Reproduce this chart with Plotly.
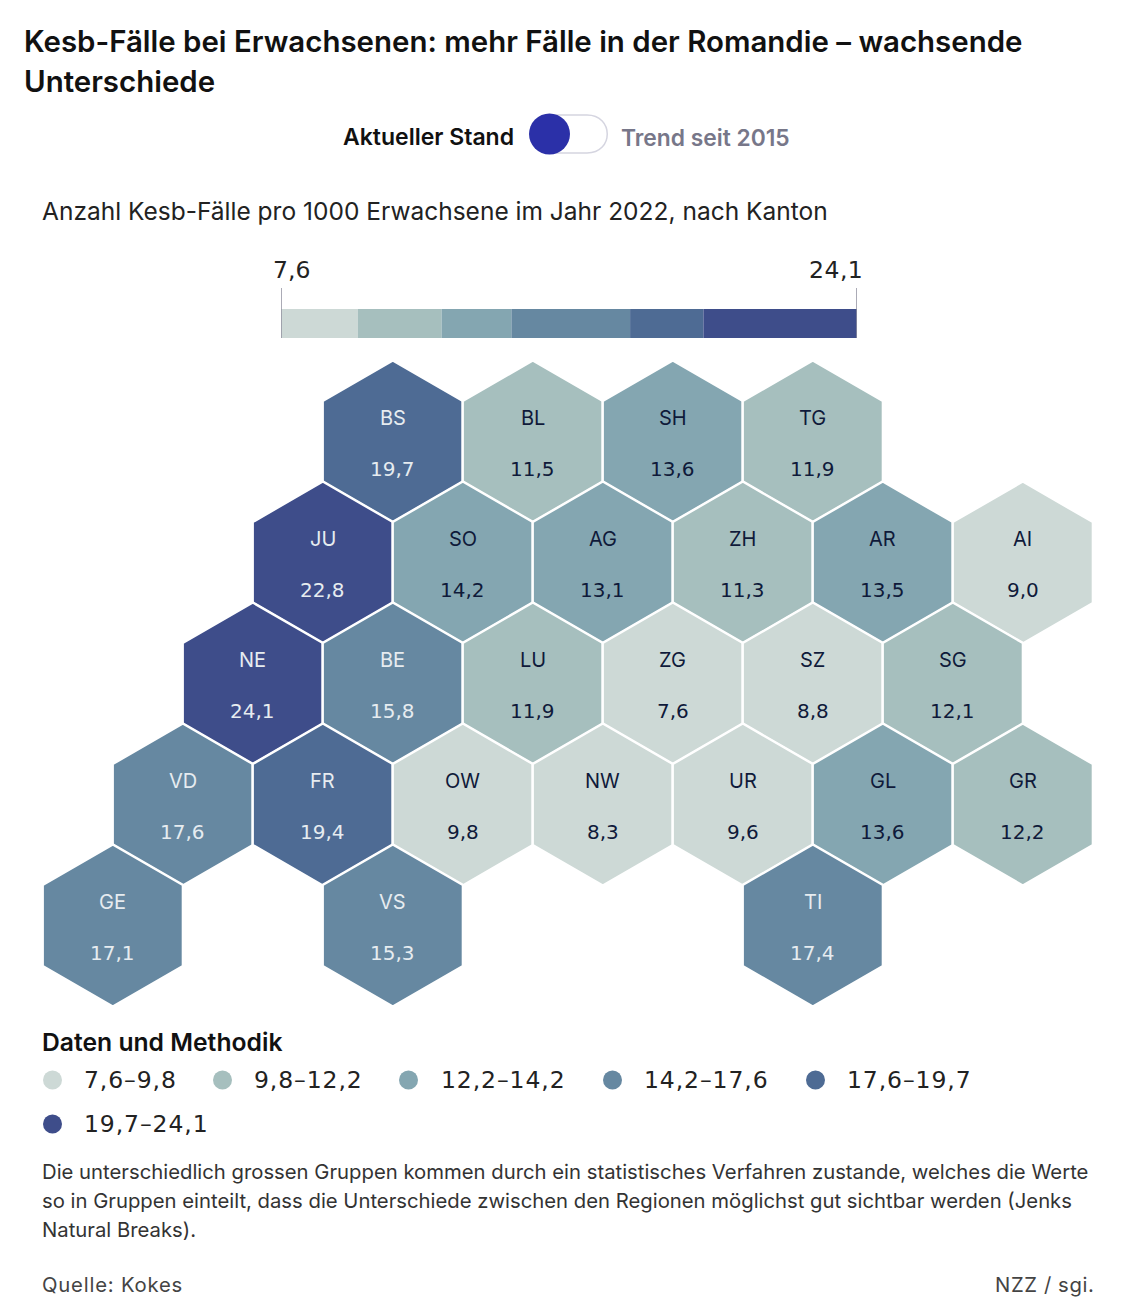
#!/usr/bin/env python3
import plotly.graph_objects as go

W, H = 1136, 1310
FONT = "Inter"
NUM_FONT = "DejaVu Sans"  # its digits come closest to the wide figures of the original

# Data
cantons = ["BS", "BL", "SH", "TG",
           "JU", "SO", "AG", "ZH", "AR", "AI",
           "NE", "BE", "LU", "ZG", "SZ", "SG",
           "VD", "FR", "OW", "NW", "UR", "GL", "GR",
           "GE", "VS", "TI"]
values = [19.7, 11.5, 13.6, 11.9,
          22.8, 14.2, 13.1, 11.3, 13.5, 9.0,
          24.1, 15.8, 11.9, 7.6, 8.8, 12.1,
          17.6, 19.4, 9.8, 8.3, 9.6, 13.6, 12.2,
          17.1, 15.3, 17.4]
# hex grid: column counted in half hexagons, row from the top
grid_col = [4, 6, 8, 10,
            3, 5, 7, 9, 11, 13,
            2, 4, 6, 8, 10, 12,
            1, 3, 5, 7, 9, 11, 13,
            0, 4, 10]
grid_row = [0, 0, 0, 0,
            1, 1, 1, 1, 1, 1,
            2, 2, 2, 2, 2, 2,
            3, 3, 3, 3, 3, 3, 3,
            4, 4, 4]
breaks = [7.6, 9.8, 12.2, 14.2, 17.6, 19.7, 24.1]
colors = ["#cdd9d6", "#a6bfbe", "#84a6b1", "#6688a1", "#4e6b94", "#3e4d8a"]
text_colors = ["#0f1a3a", "#0f1a3a", "#0f1a3a", "#e6ecf0", "#e6ecf0", "#e6ecf0"]
legend_labels = ["7,6–9,8", "9,8–12,2", "12,2–14,2", "14,2–17,6", "17,6–19,7", "19,7–24,1"]

HEX_X0, HEX_DX = 112.8, 70
HEX_Y0, HEX_DY = 441.5, 121


def de(v):
    return f"{v:.1f}".replace(".", ",")


def px(x):
    return x / W


def py(y):
    return 1 - y / H


def class_of(v):
    for i in range(len(colors)):
        if v <= breaks[i + 1]:
            return i
    return len(colors) - 1


def label(x, y, text, size, color="#111111", anchor="left", weight=400, family=FONT, spacing=0):
    if spacing:
        text = f'<span style="letter-spacing:{spacing}px">{text}</span>'
    fig.add_annotation(x=px(x), y=py(y), xref="paper", yref="paper", text=text,
                       showarrow=False, xanchor=anchor, yanchor="middle", align=anchor,
                       font=dict(family=family, size=size, color=color, weight=weight), borderpad=0, borderwidth=0)


def dot(x, y, r, color):
    fig.add_shape(type="circle", xref="paper", yref="paper", x0=px(x - r), x1=px(x + r),
                  y0=py(y + r), y1=py(y - r), fillcolor=color, line_width=0)


fig = go.Figure()

# hexagons
fig.add_trace(go.Scatter(
    x=grid_col, y=grid_row, mode="markers", hoverinfo="skip", showlegend=False,
    marker=dict(symbol="hexagon", size=162, color=[colors[class_of(v)] for v in values],
                line=dict(color="white", width=2.5)),
))
for c, v, gx, gy in zip(cantons, values, grid_col, grid_row):
    col = text_colors[class_of(v)]
    fig.add_annotation(x=gx, y=gy, text=c, showarrow=False, yshift=24, font=dict(family=FONT, size=20, color=col))
    fig.add_annotation(x=gx, y=gy, text=de(v), showarrow=False, yshift=-27, font=dict(family=NUM_FONT, size=20, color=col))

# colour scale
for i in range(len(colors)):
    fig.add_trace(go.Bar(
        x=[breaks[i + 1] - breaks[i]], base=[breaks[i]], y=[0], orientation="h", width=1,
        marker=dict(color=colors[i], line_width=0), xaxis="x2", yaxis="y2",
        hoverinfo="skip", showlegend=False,
    ))
for b in (breaks[0], breaks[-1]):
    fig.add_shape(type="line", xref="x2", yref="paper", x0=b, x1=b, y0=py(338), y1=py(288),
                  line=dict(color="#8f8f9e", width=1.5))

fig.update_layout(
    width=W, height=H, margin=dict(l=0, r=0, t=0, b=0),
    paper_bgcolor="white", plot_bgcolor="rgba(0,0,0,0)", barmode="overlay",
    xaxis=dict(range=[-HEX_X0 / HEX_DX, (W - HEX_X0) / HEX_DX], domain=[0, 1], visible=False, fixedrange=True),
    yaxis=dict(range=[(H - HEX_Y0) / HEX_DY, -HEX_Y0 / HEX_DY], domain=[0, 1], visible=False, fixedrange=True),
    xaxis2=dict(range=[breaks[0], breaks[-1]], domain=[px(281), px(857)], anchor="y2", visible=False),
    yaxis2=dict(range=[-0.5, 0.5], domain=[py(338), py(309)], anchor="x2", visible=False),
)

# header
label(24, 41.5, "Kesb-Fälle bei Erwachsenen: mehr Fälle in der Romandie – wachsende", 29.45, weight=600)
label(24, 81, "Unterschiede", 29.45, weight=600)

# toggle
label(514, 137.5, "Aktueller Stand", 23, anchor="right", weight=600)
label(621, 137.5, "Trend seit 2015", 22.8, color="#777789", weight=600)
fig.add_shape(type="path", xref="paper", yref="paper", line=dict(color="#d5d5e0", width=1.5), fillcolor="white",
              path=f"M {px(549)} {py(115)} L {px(587)} {py(115)} "
                   f"C {px(614)} {py(115)} {px(614)} {py(153)} {px(587)} {py(153)} "
                   f"L {px(549)} {py(153)} Z")
dot(549.5, 134, 20.5, "#2b30a8")

label(42, 211.5, "Anzahl Kesb-Fälle pro 1000 Erwachsene im Jahr 2022, nach Kanton", 24.5, color="#222222")
label(273, 270, de(breaks[0]), 23.5, color="#222222", family=NUM_FONT)
label(863, 270, de(breaks[-1]), 23.5, color="#222222", anchor="right", family=NUM_FONT, spacing=0.5)

# legend and notes
label(42, 1042, "Daten und Methodik", 24.7, weight=600)
legend_dots = [52.5, 222.5, 408.5, 612.5, 815.5, 52.5]
legend_text = [84, 254, 441, 644, 847, 84]
legend_y = [1080, 1080, 1080, 1080, 1080, 1124]
for i, t in enumerate(legend_labels):
    dot(legend_dots[i], legend_y[i], 9.5, colors[i])
    label(legend_text[i], legend_y[i], t, 23.5, color="#222222", family=NUM_FONT, spacing=0.9)

label(42, 1171.5, "Die unterschiedlich grossen Gruppen kommen durch ein statistisches Verfahren zustande, welches die Werte", 20.3, color="#333333")
label(42, 1200.5, "so in Gruppen einteilt, dass die Unterschiede zwischen den Regionen möglichst gut sichtbar werden (Jenks", 20.3, color="#333333")
label(42, 1229.5, "Natural Breaks).", 20.3, color="#333333")
label(42, 1284, "Quelle: Kokes", 20.3, color="#444444", spacing=0.8)
label(1094, 1284, "NZZ / sgi.", 20.3, color="#444444", anchor="right", spacing=0.6)

fig.write_html("out.html", config=dict(displayModeBar=False),
               post_script="document.body.style.margin='0';document.body.style.overflow='hidden';")
